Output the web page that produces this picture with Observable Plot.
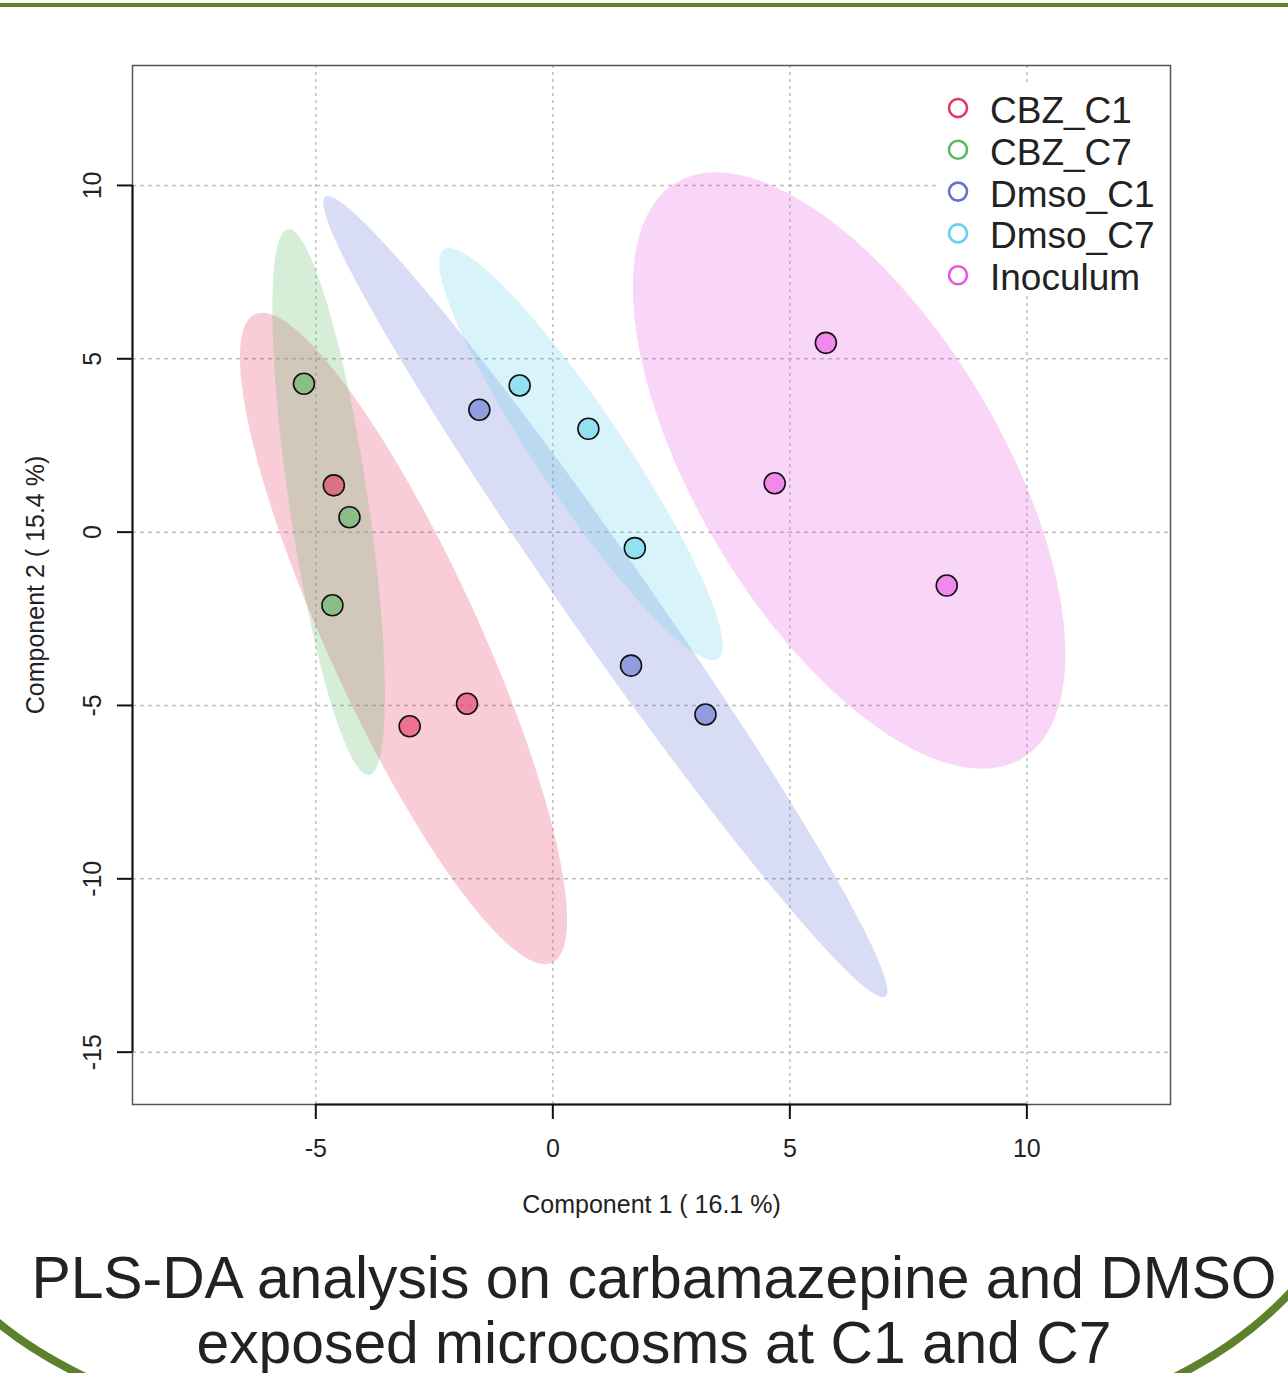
<!DOCTYPE html>
<html><head><meta charset="utf-8">
<script src="https://cdn.jsdelivr.net/npm/d3@7"></script>
<script src="https://cdn.jsdelivr.net/npm/@observablehq/plot@0.6"></script>
<style>
body{margin:0;background:#fff;}
#wrap{position:relative;width:1288px;height:1373px;overflow:hidden;font-family:"Liberation Sans",Arial,sans-serif;background:#fff;}
#topline{position:absolute;left:0;top:3px;width:1288px;height:4px;background:#5e812c;}
#chart{position:absolute;left:0;top:0;}
#title{position:absolute;left:10px;width:1288px;top:1245px;text-align:center;font-size:58.8px;line-height:65px;color:#222;white-space:nowrap;}
#deco{position:absolute;left:0;top:0;pointer-events:none;}
#legend{position:absolute;left:0;top:0;pointer-events:none;}
</style></head>
<body>
<div id="wrap">
  <div id="topline"></div>
  <div id="chart"></div>
  <div id="title">PLS-DA analysis on carbamazepine and DMSO<br>exposed microcosms at C1 and C7</div>
</div>
<script>
// ---- data ----
const groups = ["CBZ_C1", "CBZ_C7", "Dmso_C1", "Dmso_C7", "Inoculum"];
const colors = ["#e33763", "#5bb763", "#6373d3", "#63d3eb", "#e757e3"];
const sampleGroup = ["CBZ_C1","CBZ_C1","CBZ_C1",
                     "CBZ_C7","CBZ_C7","CBZ_C7",
                     "Dmso_C1","Dmso_C1","Dmso_C1",
                     "Dmso_C7","Dmso_C7","Dmso_C7",
                     "Inoculum","Inoculum","Inoculum"];
const comp1 = [-4.62, -1.81, -3.02,
               -5.25, -4.29, -4.65,
               -1.55, 1.65, 3.22,
               -0.70, 0.75, 1.73,
               5.76, 4.68, 8.31];
const comp2 = [1.35, -4.95, -5.60,
               4.28, 0.43, -2.11,
               3.53, -3.85, -5.26,
               4.23, 2.98, -0.46,
               5.46, 1.41, -1.54];
const xTicks = [-5, 0, 5, 10];
const yTicks = [-15, -10, -5, 0, 5, 10];
const xDomain = [-8.867, 13.03];
const yDomain = [-16.51, 13.46];
const xLabel = "Component 1 ( 16.1 %)";
const yLabel = "Component 2 ( 15.4 %)";

// ---- 95% confidence ellipse from group covariance ----
const K95 = Math.sqrt(5.991);
function ellipse(pts) {
  const n = pts.length;
  const mx = d3.mean(pts, d => d.x), my = d3.mean(pts, d => d.y);
  const sxx = d3.sum(pts, d => (d.x - mx) ** 2) / (n - 1);
  const syy = d3.sum(pts, d => (d.y - my) ** 2) / (n - 1);
  const sxy = d3.sum(pts, d => (d.x - mx) * (d.y - my)) / (n - 1);
  const tr = sxx + syy, det = sxx * syy - sxy * sxy;
  const disc = Math.sqrt(Math.max(0, tr * tr / 4 - det));
  const l1 = tr / 2 + disc, l2 = Math.max(0, tr / 2 - disc);
  const theta = Math.atan2(l1 - sxx, sxy);
  const a = K95 * Math.sqrt(l1), b = K95 * Math.sqrt(l2);
  return d3.range(0, 120).map(i => {
    const t = 2 * Math.PI * i / 120;
    const u = a * Math.cos(t), v = b * Math.sin(t);
    return {x: mx + u * Math.cos(theta) - v * Math.sin(theta),
            y: my + u * Math.sin(theta) + v * Math.cos(theta)};
  });
}

const data = comp1.map((x, i) => ({x, y: comp2[i], g: sampleGroup[i]}));
const ells = groups.map(g => ellipse(data.filter(d => d.g === g)));

const font = '"Liberation Sans", Arial, sans-serif';
const plot = Plot.plot({
  width: 1288, height: 1225,
  marginLeft: 132, marginRight: 118, marginTop: 65, marginBottom: 121,
  style: {fontFamily: font, fontSize: "25px", color: "#222", background: "transparent"},
  x: {domain: xDomain},
  y: {domain: yDomain},
  color: {domain: groups, range: colors},
  marks: [
    Plot.gridX(xTicks, {stroke: "#bdbdbd", strokeOpacity: 1, strokeDasharray: "3,4", strokeWidth: 1.5}),
    Plot.gridY(yTicks, {stroke: "#bdbdbd", strokeOpacity: 1, strokeDasharray: "4,4", strokeWidth: 1.5}),
    ...ells.map((e, i) => Plot.line(e, {x: "x", y: "y", fill: colors[i], fillOpacity: 0.25, stroke: "none", curve: "linear-closed"})),
    Plot.dot(data, {x: "x", y: "y", fill: "g", fillOpacity: 0.6, stroke: "#111", strokeWidth: 1.6, r: 10.5}),
    Plot.frame({stroke: "#555", strokeWidth: 1.5}),
    Plot.ruleX([xDomain[0]], {y1: yTicks[0], y2: yTicks[yTicks.length - 1], stroke: "#111", strokeWidth: 2}),
    Plot.ruleY([yDomain[0]], {x1: xTicks[0], x2: xTicks[xTicks.length - 1], stroke: "#111", strokeWidth: 2}),
    Plot.axisX(xTicks, {tickSize: 15, tickPadding: 20, label: null, stroke: "#111", strokeWidth: 2, fontSize: 25, tickFormat: d => String(d)}),
    Plot.axisY(yTicks, {tickSize: 15, label: null, stroke: "#111", strokeWidth: 2, tickFormat: () => ""}),
    Plot.text(yTicks, {y: d => d, text: d => String(d), frameAnchor: "left", textAnchor: "middle", dx: -40, rotate: -90, fontSize: 25, fill: "#222"}),
    Plot.text([xLabel], {text: d => d, frameAnchor: "bottom", dy: 108, fontSize: 25, fill: "#222"}),
    Plot.text([yLabel], {text: d => d, frameAnchor: "left", textAnchor: "middle", dx: -97, rotate: -90, fontSize: 25, fill: "#222"})
  ]
});
document.getElementById("chart").appendChild(plot);

// ---- legend (top-right, inside the frame) ----
const lg = d3.select("#wrap").append("svg").attr("id", "legend").attr("width", 1288).attr("height", 400);
lg.append("rect").attr("x", 938).attr("y", 86).attr("width", 230).attr("height", 210).attr("fill", "#fff");
groups.forEach((g, i) => {
  const cy = 108 + i * 41.8;
  lg.append("circle").attr("cx", 958).attr("cy", cy).attr("r", 9).attr("fill", "none")
    .attr("stroke", colors[i]).attr("stroke-width", 2.6);
  lg.append("text").attr("x", 990).attr("y", cy + 15).attr("font-family", font).attr("font-size", 37)
    .attr("fill", "#222").text(g);
});

// ---- page decoration (green arcs) ----
const deco = d3.select("#wrap").append("svg").attr("id", "deco").attr("width", 1288).attr("height", 1373);
deco.append("path").attr("d", "M -12 1314 Q 30 1352 100 1384").attr("fill", "none").attr("stroke", "#5e812c").attr("stroke-width", 8);
deco.append("path").attr("d", "M 1300 1282 Q 1245 1345 1160 1384").attr("fill", "none").attr("stroke", "#5e812c").attr("stroke-width", 8);
</script>
</body></html>
